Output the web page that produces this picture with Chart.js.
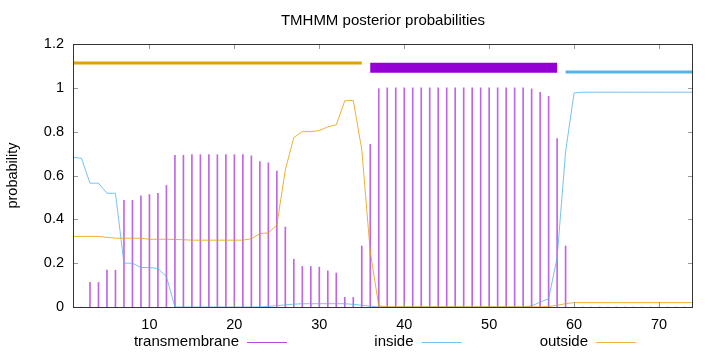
<!DOCTYPE html>
<html>
<head>
<meta charset="utf-8">
<script src="https://cdn.jsdelivr.net/npm/chart.js@4.4.1/dist/chart.umd.min.js"></script>
<style>
  html, body { margin: 0; padding: 0; background: #fff; }
  #wrap { width: 720px; height: 352px; }
</style>
</head>
<body>
<div id="wrap"><canvas id="chart"></canvas></div>
<script>
// residue positions 1..74
var positions = [];
for (var i = 1; i <= 74; i++) positions.push(i);

var transmembrane = [
  0, 0, 0.112, 0.112, 0.168, 0.168, 0.487, 0.487, 0.507, 0.513,
  0.519, 0.555, 0.692, 0.692, 0.695, 0.695, 0.695, 0.695, 0.695, 0.695,
  0.695, 0.690, 0.664, 0.658, 0.620, 0.365, 0.218, 0.185, 0.185, 0.182,
  0.165, 0.155, 0.044, 0.044, 0.278, 0.742, 0.996, 1, 1, 1,
  1, 1, 1, 1, 1, 1, 1, 1, 1, 1,
  1, 1, 1, 1, 0.995, 0.980, 0.961, 0.768, 0.278, 0,
  0, 0, 0, 0, 0, 0, 0, 0, 0, 0,
  0, 0, 0, 0
];
var inside = [
  0.683, 0.678, 0.565, 0.565, 0.519, 0.519, 0.200, 0.200, 0.180, 0.180,
  0.176, 0.138, 0, 0, 0, 0, 0, 0, 0, 0,
  0, 0, 0, 0.003, 0.006, 0.010, 0.013, 0.015, 0.015, 0.015,
  0.015, 0.015, 0.015, 0.012, 0.008, 0.004, 0, 0, 0, 0,
  0, 0, 0, 0, 0, 0, 0, 0, 0, 0,
  0, 0, 0, 0, 0.005, 0.022, 0.038, 0.225, 0.710, 0.977,
  0.980, 0.980, 0.980, 0.980, 0.980, 0.980, 0.980, 0.980, 0.980, 0.980,
  0.980, 0.980, 0.980, 0.980
];
var outside = [
  0.322, 0.322, 0.322, 0.322, 0.318, 0.314, 0.314, 0.314, 0.314, 0.309,
  0.309, 0.309, 0.308, 0.307, 0.305, 0.305, 0.305, 0.305, 0.305, 0.305,
  0.305, 0.311, 0.335, 0.338, 0.374, 0.626, 0.773, 0.800, 0.800, 0.805,
  0.822, 0.831, 0.941, 0.942, 0.718, 0.252, 0.005, 0.001, 0.001, 0.001,
  0.001, 0.001, 0.001, 0.001, 0.001, 0.001, 0.001, 0.001, 0.001, 0.001,
  0.001, 0.001, 0.001, 0.001, 0.001, 0.001, 0.002, 0.008, 0.015, 0.020,
  0.020, 0.020, 0.020, 0.020, 0.020, 0.020, 0.020, 0.020, 0.020, 0.020,
  0.020, 0.020, 0.020, 0.020
];

// predicted topology bars drawn above the curves
var regionStart = [1, 36, 59];
var regionEnd = [35, 58, 74];
var regionLevel = [1.113, 1.092, 1.072];

var xTicks = [10, 20, 30, 40, 50, 60, 70];
var yTicks = [0, 0.2, 0.4, 0.6, 0.8, 1, 1.2];

var PURPLE = '#9400d3', BLUE = '#56b4e9', ORANGE = '#e69f00';
var FONT = '"Liberation Sans", Arial, sans-serif';

function pts(ys) {
  return positions.map(function (p, i) { return { x: p, y: ys[i] }; });
}
function region(k) {
  return [{ x: regionStart[k], y: regionLevel[k] }, { x: regionEnd[k], y: regionLevel[k] }];
}

// gnuplot-like frame, inward ticks, title and legend
var gnuFrame = {
  id: 'gnuFrame',
  afterDraw: function (chart) {
    var ctx = chart.ctx, a = chart.chartArea;
    var sx = chart.scales.x, sy = chart.scales.y;
    ctx.save();

    ctx.strokeStyle = '#999';
    ctx.lineWidth = 1;
    ctx.beginPath();
    xTicks.forEach(function (t) {
      var px = Math.round(sx.getPixelForValue(t)) + 0.5;
      ctx.moveTo(px, a.bottom); ctx.lineTo(px, a.bottom - 5);
      ctx.moveTo(px, a.top); ctx.lineTo(px, a.top + 5);
    });
    yTicks.forEach(function (t) {
      var py = Math.round(sy.getPixelForValue(t)) + 0.5;
      ctx.moveTo(a.left, py); ctx.lineTo(a.left + 5, py);
      ctx.moveTo(a.right, py); ctx.lineTo(a.right - 5, py);
    });
    ctx.stroke();

    ctx.strokeStyle = '#333';
    ctx.strokeRect(a.left + 0.5, a.top + 0.5, a.right - a.left - 1, a.bottom - a.top);

    ctx.fillStyle = '#000';
    ctx.font = '15px ' + FONT;
    ctx.textAlign = 'center';
    ctx.textBaseline = 'middle';
    ctx.fillText('TMHMM posterior probabilities', (a.left + a.right) / 2, 21);

    // legend: label then line sample
    var items = chart.data.datasets.filter(function (d) { return d.inLegend; });
    items.forEach(function (d, i) {
      var right = 239 + i * 174.5;
      ctx.textAlign = 'right';
      ctx.fillStyle = '#000';
      ctx.fillText(d.label, right, 342);
      ctx.strokeStyle = d.legendColor;
      ctx.beginPath();
      ctx.moveTo(right + 8, 342.5);
      ctx.lineTo(right + 48, 342.5);
      ctx.stroke();
    });
    ctx.restore();
  }
};

new Chart(document.getElementById('chart'), {
  type: 'line',
  data: {
    datasets: [
      {
        type: 'bar', label: 'transmembrane', inLegend: true, legendColor: 'rgba(148,0,211,0.7)',
        data: pts(transmembrane), backgroundColor: 'rgba(148,0,211,0.6)',
        barThickness: 1, borderWidth: 0, order: 5
      },
      {
        label: 'inside', inLegend: true, legendColor: 'rgba(86,180,233,0.8)',
        data: pts(inside), borderColor: 'rgba(86,180,233,0.8)', borderWidth: 1,
        pointRadius: 0, tension: 0, order: 4
      },
      {
        label: 'outside', inLegend: true, legendColor: 'rgba(230,159,0,0.75)',
        data: pts(outside), borderColor: 'rgba(230,159,0,0.8)', borderWidth: 1,
        pointRadius: 0, tension: 0, order: 3
      },
      {
        label: 'region 1', data: region(0), borderColor: ORANGE, borderWidth: 3,
        borderCapStyle: 'butt', pointRadius: 0, order: 2
      },
      {
        label: 'region 2', data: region(1), borderColor: PURPLE, borderWidth: 10,
        borderCapStyle: 'butt', pointRadius: 0, order: 1
      },
      {
        label: 'region 3', data: region(2), borderColor: BLUE, borderWidth: 3,
        borderCapStyle: 'butt', pointRadius: 0, order: 0
      }
    ]
  },
  options: {
    responsive: true,
    maintainAspectRatio: false,
    animation: false,
    layout: { padding: { top: 44, right: 27, bottom: 0, left: 0 } },
    plugins: {
      legend: { display: false },
      tooltip: { enabled: false },
      title: { display: false }
    },
    scales: {
      x: {
        type: 'linear', min: 1, max: 74, offset: false,
        grid: { display: false, drawTicks: false }, border: { display: false },
        afterBuildTicks: function (s) { s.ticks = xTicks.map(function (v) { return { value: v }; }); },
        afterFit: function (s) { s.height = 45; },
        ticks: { color: '#000', padding: 9, maxRotation: 0, font: { family: FONT, size: 14.5 } }
      },
      y: {
        min: 0, max: 1.2,
        grid: { display: false, drawTicks: false }, border: { display: false },
        afterBuildTicks: function (s) { s.ticks = yTicks.map(function (v) { return { value: v }; }); },
        afterFit: function (s) { s.width = 73; },
        ticks: {
          color: '#000', padding: 9, font: { family: FONT, size: 14.5 },
          callback: function (v) { return String(Math.round(v * 10) / 10); }
        },
        title: { display: true, text: 'probability', color: '#000', padding: { top: 4, bottom: 0 },
          font: { family: FONT, size: 14.5 } }
      }
    }
  },
  plugins: [gnuFrame]
});
</script>
</body>
</html>
